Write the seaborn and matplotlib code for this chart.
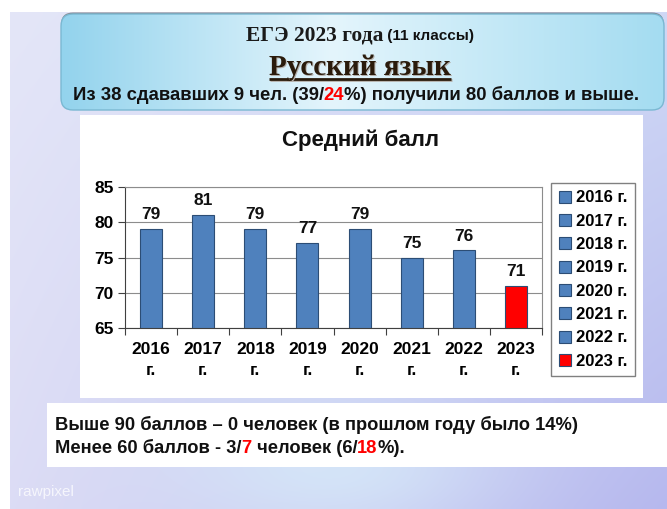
import numpy as np
import pandas as pd
import matplotlib
matplotlib.use("Agg")
import matplotlib.pyplot as plt
import seaborn as sns
from matplotlib.patches import FancyBboxPatch, Rectangle
from matplotlib.colors import to_rgb

# ---------------- data ----------------
years = ["2016 г.", "2017 г.", "2018 г.", "2019 г.", "2020 г.", "2021 г.", "2022 г.", "2023 г."]
scores = [79, 81, 79, 77, 79, 75, 76, 71]
y_ticks = [65, 70, 75, 80, 85]
chart_title = "Средний балл"

BLUE = "#4f81bd"
RED = "#ff0000"
palette = {y: (RED if y == years[-1] else BLUE) for y in years}

df = pd.DataFrame({"year": years, "score": scores})

# ---------------- figure ----------------
W, H = 667, 509
plt.rcParams["font.family"] = ["Liberation Sans", "DejaVu Sans"]
fig = plt.figure(figsize=(W / 100, H / 100), dpi=100)
fig.patch.set_facecolor("white")

bg = fig.add_axes([0, 0, 1, 1])
bg.set_zorder(0)
bg.axis("off")

# slide background gradient
nx, ny = 160, 120
xs = np.linspace(0, 1, nx)[None, :, None]
ys = np.linspace(0, 1, ny)[:, None, None]
tl = np.array(to_rgb("#e4e6f8"))
tr = np.array(to_rgb("#cfd8f5"))
bl = np.array(to_rgb("#dcdcf5"))
br = np.array(to_rgb("#b6b8ee"))
grad = (1 - xs) * (1 - ys) * tl + xs * (1 - ys) * tr + (1 - xs) * ys * bl + xs * ys * br
glow = np.array(to_rgb("#d8eefa"))
wgt = np.exp(-(((xs - 0.5) ** 2) / 0.06 + ((ys - 0.92) ** 2) / 0.02)) * 0.7
grad = grad * (1 - wgt) + glow * wgt
bg.imshow(grad, extent=(10, W, H, 12), aspect="auto", interpolation="bicubic", zorder=0)

# header box
shadow = FancyBboxPatch((61, 12.5), 603, 96, boxstyle="round,pad=0,rounding_size=12",
                        facecolor="#6e6e6e", edgecolor="none", alpha=0.8, zorder=1)
bg.add_patch(shadow)
hdr = FancyBboxPatch((61, 14), 603, 96, boxstyle="round,pad=0,rounding_size=12",
                     facecolor="none", edgecolor="#7ab8d2", linewidth=1.0, zorder=3)
bg.add_patch(hdr)
hx = np.linspace(0, 1, 300)
stops = [0.0, 0.45, 1.0]
cols = [to_rgb("#93d3ed"), to_rgb("#e4f5fc"), to_rgb("#a4dcf1")]
g2 = np.stack([np.interp(hx, stops, [c[i] for c in cols]) for i in range(3)], axis=-1)[None, :, :]
g2 = np.repeat(g2, 4, axis=0)
im = bg.imshow(g2, extent=(61, 664, 110, 14), aspect="auto", zorder=2, interpolation="bilinear")
im.set_clip_path(hdr)

# white panels
bg.add_patch(Rectangle((80, 115), 563, 283, facecolor="white", edgecolor="none", zorder=2))
bg.add_patch(Rectangle((47, 403), 620, 64, facecolor="white", edgecolor="none", zorder=2))

bg.set_xlim(0, W)
bg.set_ylim(H, 0)

# ---------------- chart ----------------
ax = fig.add_axes([125 / W, 1 - 328 / H, (542 - 125) / W, (328 - 187) / H])
ax.set_zorder(2)
ax.set_facecolor("white")

sns.barplot(data=df, x="year", y="score", hue="year", palette=palette, dodge=False,
            saturation=1, width=0.42, edgecolor="#2c4d75", linewidth=0.8, ax=ax, legend=True)

for c in ax.containers:
    ax.bar_label(c, fmt="%d", padding=5, fontsize=12.5, fontweight="bold", color="#111111")

ax.set_ylim(y_ticks[0], y_ticks[-1])
ax.set_yticks(y_ticks)
ax.set_xlim(-0.5, len(years) - 0.5)
ax.set_xticks(range(len(years)))
ax.set_xticklabels([y.replace(" ", "\n") for y in years], fontsize=12.5,
                   fontweight="bold", linespacing=1.5)
ax.set_xticks(np.arange(-0.5, len(years), 1), minor=True)
ax.tick_params(axis="x", which="major", length=0, pad=10)
ax.tick_params(axis="x", which="minor", length=5, width=0.8, color="#404040")
ax.tick_params(axis="y", length=5, width=0.8, pad=3, labelsize=12.5, color="#404040")
for lbl in ax.get_yticklabels():
    lbl.set_fontweight("bold")
ax.set_xlabel("")
ax.set_ylabel("")
ax.set_axisbelow(True)
ax.yaxis.grid(True, color="#8c8c8c", linewidth=0.8)
ax.xaxis.grid(False)
for s in ["top", "right"]:
    ax.spines[s].set_color("#8c8c8c")
    ax.spines[s].set_linewidth(0.8)
for s in ["left", "bottom"]:
    ax.spines[s].set_color("#404040")
    ax.spines[s].set_linewidth(0.8)

old = ax.get_legend()
handles = list(old.legend_handles)
labels = [t.get_text() for t in old.texts]
old.remove()
for h in handles:
    h.set_edgecolor("#2c4d75")
    h.set_linewidth(0.8)
leg = ax.legend(handles, labels, loc="upper left", bbox_to_anchor=(551 / W, 1 - 183 / H),
                bbox_transform=fig.transFigure, prop={"weight": "bold", "size": 12},
                handlelength=0.72, handleheight=0.72, handletextpad=0.35,
                labelspacing=0.5, borderpad=0.45, borderaxespad=0,
                fancybox=False, framealpha=1, edgecolor="#808080")
leg.get_frame().set_linewidth(1.0)

fig.text(360 / W, 1 - 140 / H, chart_title, ha="center", va="center",
         fontsize=16, fontweight="bold", color="#111111")

# ---------------- rich text helper ----------------
renderer = fig.canvas.get_renderer()


def rich(pieces, x_px, y_px, ha="left"):
    arts, widths = [], []
    for s, kw in pieces:
        t = fig.text(0, 0, s, va="baseline", ha="left", **kw)
        arts.append(t)
        widths.append(t.get_window_extent(renderer).width)
    total = sum(widths)
    cur = x_px - total / 2 if ha == "center" else x_px
    start = cur
    for t, w in zip(arts, widths):
        t.set_position((cur / W, 1 - y_px / H))
        cur += w
    return start, cur


serif = dict(family="Liberation Serif", weight="bold", color="#1a1a1a")
sans = dict(family="Liberation Sans", weight="bold", color="#111111")

rich([("ЕГЭ 2023 года", dict(serif, size=15.5)),
      (" (11 классы)", dict(sans, size=11))], 360, 40, ha="center")

title_kw = dict(family="Liberation Serif", weight="bold", size=21)
x0, x1 = rich([("Русский язык", dict(title_kw, color="#b5b0aa"))], 361, 76, ha="center")
bg.plot([x0, x1], [79.5, 79.5], color="#b5b0aa", lw=2, zorder=4, solid_capstyle="butt")
x0, x1 = rich([("Русский язык", dict(title_kw, color="#2a1b0c"))], 360, 75, ha="center")
bg.plot([x0, x1], [78.5, 78.5], color="#2a1b0c", lw=2, zorder=5, solid_capstyle="butt")

rich([("Из 38 сдавав­ших 9 чел. (39/".replace("\u00ad", ""), dict(sans, size=13.3)),
      ("24", dict(sans, size=13.3, color=RED)),
      ("%) получили 80 баллов и выше.", dict(sans, size=13.3))], 356, 100, ha="center")

rich([("Выше 90 баллов – 0 человек (в прошлом году было 14%)", dict(sans, size=13.2))], 55, 430)
rich([("Менее 60 баллов - 3/", dict(sans, size=13.2)),
      ("7", dict(sans, size=13.2, color=RED)),
      (" человек (6/", dict(sans, size=13.2)),
      ("18", dict(sans, size=13.2, color=RED)),
      ("%).", dict(sans, size=13.2))], 55, 453)

fig.text(18 / W, 1 - 492 / H, "rawpixel", color="white", alpha=0.75, fontsize=11, va="center")

fig.savefig("out.png", dpi=100)
